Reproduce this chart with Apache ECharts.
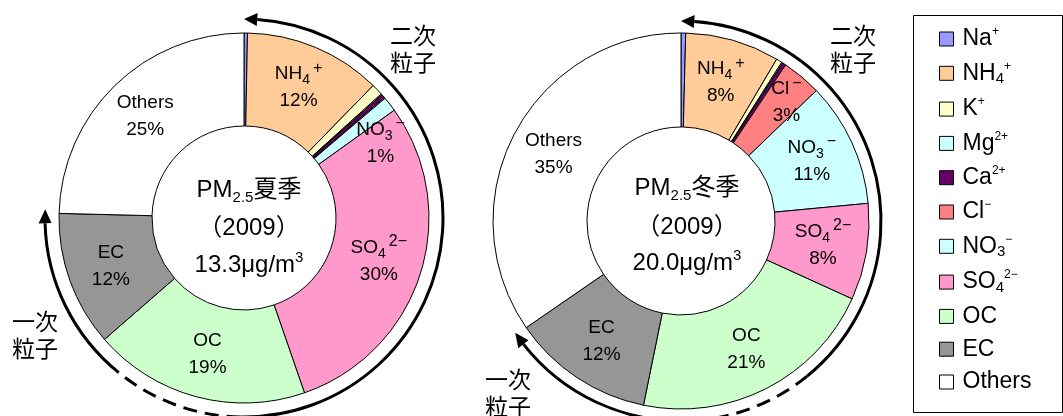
<!DOCTYPE html>
<html>
<head>
<meta charset="utf-8">
<script src="https://cdn.jsdelivr.net/npm/echarts@6/dist/echarts.min.js"></script>
<style>
  html, body { margin: 0; padding: 0; background: #fff; }
  #chart { width: 1063px; height: 416px; }
</style>
</head>
<body>
<div id="chart"></div>
<script>
// 成分の並び（凡例順）
const names = ['Na', 'NH4', 'K', 'Mg', 'Ca', 'Cl', 'NO3', 'SO4', 'OC', 'EC', 'Others']
// 夏季・冬季の構成比 (%)
const summer = [0.3, 12.0, 1.0, 0.1, 0.3, 0.1, 1.3, 29.6, 18.9, 11.8, 24.6]
const winter = [0.4, 8.1, 0.5, 0.1, 0.3, 3.4, 10.7, 8.3, 21.4, 12.2, 34.6]
// ラベルを表示する成分
const summerLabeled = ['NH4', 'NO3', 'SO4', 'OC', 'EC', 'Others']
const winterLabeled = ['NH4', 'Cl', 'NO3', 'SO4', 'OC', 'EC', 'Others']
// 中央のテキスト
const summerTitle = ['{t|PM}{sub|2.5}{t|夏季}', '{t|（2009）}', '{t|13.3μg/m}{sup|3}']
const winterTitle = ['{t|PM}{sub|2.5}{t|冬季}', '{t|（2009）}', '{t|20.0μg/m}{sup|3}']

const colors = ['#9999ff', '#ffcc99', '#ffffcc', '#ccffff', '#660066', '#ff8080',
  '#ccffff', '#ff99cc', '#ccffcc', '#969696', '#ffffff']

const richName = {
  Na: '{t|Na}{sup|+}',
  NH4: '{t|NH}{sub|4}{sup|+}',
  K: '{t|K}{sup|+}',
  Mg: '{t|Mg}{sup|2+}',
  Ca: '{t|Ca}{sup|2+}',
  Cl: '{t|Cl}{sup|−}',
  NO3: '{t|NO}{sub|3}{sup|−}',
  SO4: '{t|SO}{sub|4}{sup|2−}',
  OC: '{t|OC}',
  EC: '{t|EC}',
  Others: '{t|Others}',
}

const FONT = '"Liberation Sans", "Noto Sans CJK JP", sans-serif'
const CJK = '"Noto Sans CJK JP", sans-serif'

function makePie(values, labeled, center, radius, shift) {
  return {
    type: 'pie',
    center,
    radius,
    startAngle: 90,
    clockwise: true,
    avoidLabelOverlap: false,
    silent: true,
    animation: false,
    itemStyle: { borderColor: '#000', borderWidth: 1 },
    label: {
      show: true,
      position: 'inside',
      color: '#000',
      fontFamily: FONT,
      formatter: p => richName[p.name] + '\n{t|' + Math.round(p.percent) + '%}',
      rich: {
        t: { fontSize: 19, lineHeight: 27, color: '#000', fontFamily: FONT },
        sub: { fontSize: 14, lineHeight: 10, verticalAlign: 'bottom', color: '#000', fontFamily: FONT },
        sup: { fontSize: 16, lineHeight: 12, verticalAlign: 'top', padding: [0, 0, 0, 3], color: '#000', fontFamily: FONT },
      },
    },
    labelLine: { show: false },
    labelLayout: p => shift[names[p.dataIndex]] || {},
    emphasis: { disabled: true },
    data: names.map((n, i) => ({
      name: n,
      value: values[i],
      itemStyle: { color: colors[i] },
      label: { show: labeled.includes(n) },
    })),
  }
}

const rad = t => (t - 90) * Math.PI / 180
function pt(cx, cy, r, t) {
  const a = t * Math.PI / 180
  return [cx + r * Math.sin(a), cy - r * Math.cos(a)]
}
function arc(cx, cy, r, t1, t2, dashed) {
  return {
    type: 'arc',
    silent: true,
    shape: { cx, cy, r, startAngle: rad(t1), endAngle: rad(t2), clockwise: true },
    style: { stroke: '#000', lineWidth: 3, fill: null, lineDash: dashed ? [14, 8] : null },
  }
}
function arrowHead(cx, cy, r, tBase, tTip) {
  const a = tBase * Math.PI / 180
  const ux = Math.sin(a)
  const uy = -Math.cos(a)
  const b = pt(cx, cy, r, tBase)
  return {
    type: 'polygon',
    silent: true,
    shape: { points: [pt(cx, cy, r, tTip), [b[0] + ux * 6.5, b[1] + uy * 6.5], [b[0] - ux * 6.5, b[1] - uy * 6.5]] },
    style: { fill: '#000' },
  }
}
function centerText(lines, x, ys) {
  return lines.map((s, i) => ({
    type: 'text',
    silent: true,
    style: {
      text: s,
      x,
      y: ys[i],
      align: 'center',
      verticalAlign: 'middle',
      fill: '#000',
      fontSize: 24,
      fontFamily: FONT,
      rich: {
        t: { fontSize: 24, lineHeight: 30, fontFamily: FONT },
        sub: { fontSize: 15, lineHeight: 13, verticalAlign: 'bottom', fontFamily: FONT },
        sup: { fontSize: 15, lineHeight: 13, verticalAlign: 'top', fontFamily: FONT },
      },
    },
  }))
}
function note(text, x, y) {
  return {
    type: 'text',
    silent: true,
    style: { text, x, y, fill: '#000', fontSize: 23, lineHeight: 27, fontFamily: CJK, verticalAlign: 'top' },
  }
}

const chart = echarts.init(document.getElementById('chart'))

chart.setOption({
  animation: false,
  textStyle: { fontFamily: FONT },
  legend: {
    orient: 'vertical',
    left: 939,
    top: 26,
    padding: 0,
    itemWidth: 14,
    itemHeight: 14,
    itemGap: 9.8,
    icon: 'rect',
    selectedMode: false,
    itemStyle: { borderColor: '#000', borderWidth: 1 },
    data: names,
    formatter: n => richName[n],
    textStyle: {
      color: '#000',
      padding: [0, 0, 0, 4],
      rich: {
        t: { fontSize: 23, lineHeight: 26, fontFamily: FONT, color: '#000' },
        sub: { fontSize: 15, lineHeight: 12, verticalAlign: 'bottom', fontFamily: FONT, color: '#000' },
        sup: { fontSize: 12, lineHeight: 12, verticalAlign: 'top', fontFamily: FONT, color: '#000' },
      },
    },
  },
  graphic: [
    {
      type: 'rect',
      silent: true,
      shape: { x: 913.5, y: 15.5, width: 149, height: 397 },
      style: { fill: '#fff', stroke: '#000', lineWidth: 1 },
      z: -10,
    },
    ...centerText(summerTitle, 249, [190, 228, 265]),
    ...centerText(winterTitle, 687, [188, 227, 263]),
    // 夏季の矢印
    arc(244, 218, 199, 3.8, 181, false),
    arc(244, 218, 199, 181, 219, true),
    arc(244, 218, 199, 219, 268.5, false),
    arrowHead(244, 218, 199, 3.8, 0),
    arrowHead(244, 218, 199, 268.5, 272.5),
    // 冬季の矢印
    arc(681, 221, 200, 3.8, 141, false),
    arc(681, 221, 200, 141, 178, true),
    arc(681, 221, 200, 178, 232, false),
    arrowHead(681, 221, 200, 3.8, 0),
    arrowHead(681, 221, 200, 232, 236),
    note('二次\n粒子', 390, 22),
    note('一次\n粒子', 12, 308),
    note('二次\n粒子', 830, 22),
    note('一次\n粒子', 485, 366),
  ],
  series: [
    makePie(summer, summerLabeled, [244, 218], [92, 185], { NO3: { dx: 25, dy: 12 } }),
    makePie(winter, winterLabeled, [681, 221], [94, 188], { Cl: { dx: 13, dy: -8 } }),
  ],
})
</script>
</body>
</html>
